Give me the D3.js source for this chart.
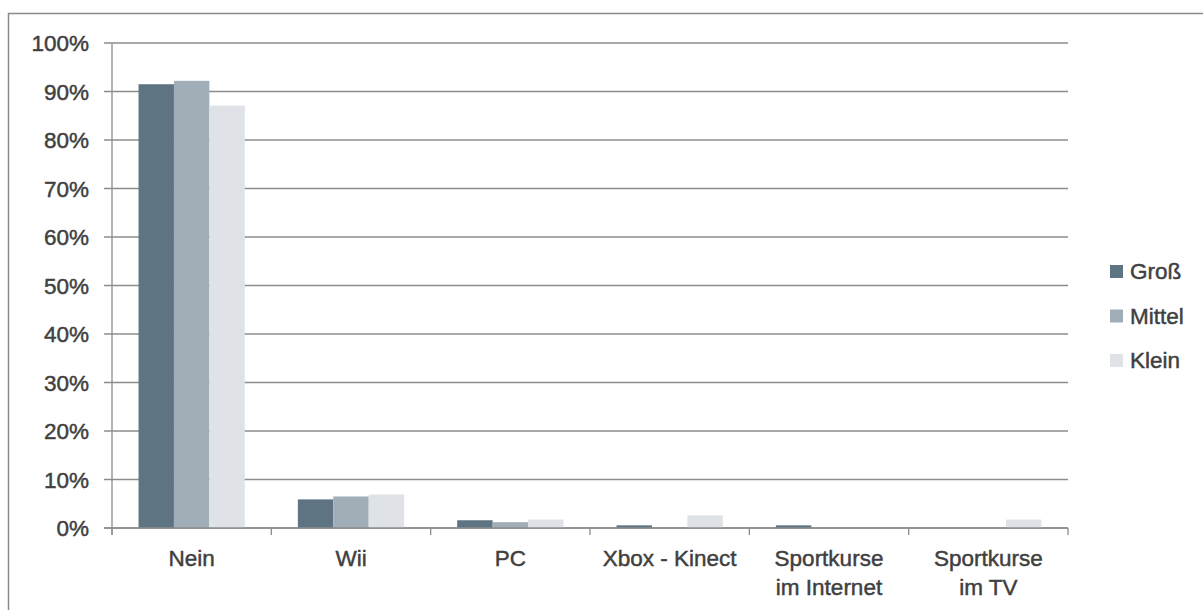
<!DOCTYPE html>
<html><head><meta charset="utf-8">
<script src="https://cdn.jsdelivr.net/npm/d3@7"></script>
<style>
html,body{margin:0;padding:0;background:#fff;}
text{font-family:"Liberation Sans",Arial,sans-serif;fill:#404040;stroke:#404040;stroke-width:0.45px;}
</style></head>
<body>
<svg id="chart" width="1203" height="610"></svg>
<script>
const categories = [["Nein"],["Wii"],["PC"],["Xbox - Kinect"],["Sportkurse","im Internet"],["Sportkurse","im TV"]];
const seriesNames = ["Groß","Mittel","Klein"];
const gross  = [91.5, 5.9, 1.6, 0.55, 0.55, 0];
const mittel = [92.2, 6.5, 1.2, 0, 0, 0];
const klein  = [87.1, 6.9, 1.75, 2.6, 0, 1.75];
const yTicks = [0,10,20,30,40,50,60,70,80,90,100];
const colors = ["#5f7483","#a1aeb8","#dfe3e7"];

(function(){
const series = [gross, mittel, klein];
const svg = d3.select("#chart");
const fs = 22.5;

svg.append("rect").attr("x",8.5).attr("y",13.5).attr("width",1210).attr("height",620)
  .attr("fill","none").attr("stroke","#8a8a8a").attr("stroke-width",1.5);

const pl=112, pr=1068, pt=43, pb=528;
const x0 = d3.scaleBand().domain(d3.range(categories.length)).range([pl,pr]).paddingInner(0.333).paddingOuter(0.1665);
const x1 = d3.scaleBand().domain(d3.range(seriesNames.length)).range([0,x0.bandwidth()]);
const y = d3.scaleLinear().domain([0,100]).range([pb,pt]);

svg.append("g").selectAll("line").data(yTicks).join("line")
  .attr("x1",104).attr("x2",pr).attr("y1",d=>y(d)).attr("y2",d=>y(d))
  .attr("stroke","#8c8c8c").attr("stroke-width",1.3);

const g = svg.append("g");
series.forEach((s,si)=>{
  g.selectAll(null).data(s).join("rect")
    .attr("x",(d,i)=>x0(i)+x1(si)).attr("width",x1.bandwidth())
    .attr("y",d=>y(d)).attr("height",d=>pb-y(d)).attr("fill",colors[si]);
});

svg.append("line").attr("x1",pl).attr("x2",pl).attr("y1",pt).attr("y2",pb+7)
  .attr("stroke","#8c8c8c").attr("stroke-width",1.3);
svg.append("line").attr("x1",104).attr("x2",pr).attr("y1",pb).attr("y2",pb)
  .attr("stroke","#8c8c8c").attr("stroke-width",1.5);
const step = (pr-pl)/categories.length;
svg.append("g").selectAll("line").data(d3.range(categories.length+1)).join("line")
  .attr("x1",i=>pl+i*step).attr("x2",i=>pl+i*step).attr("y1",pb).attr("y2",pb+7)
  .attr("stroke","#8c8c8c").attr("stroke-width",1.3);

svg.append("g").selectAll("text").data(yTicks).join("text")
  .attr("x",89).attr("y",d=>y(d)).attr("dy","0.36em").attr("text-anchor","end")
  .attr("font-size",fs).text(d=>d+"%");

const xl = svg.append("g").selectAll("text").data(categories).join("text")
  .attr("text-anchor","middle").attr("font-size",fs)
  .attr("transform",(d,i)=>`translate(${x0(i)+x0.bandwidth()/2},566)`);
xl.selectAll("tspan").data(d=>d).join("tspan").attr("x",0).attr("y",(d,j)=>j*29).text(d=>d);

const lg = svg.append("g").selectAll("g").data(seriesNames).join("g")
  .attr("transform",(d,i)=>`translate(1110,${271+i*44.5})`);
lg.append("rect").attr("x",0).attr("y",-6).attr("width",13).attr("height",13).attr("fill",(d,i)=>colors[i]).attr("stroke","none");
lg.append("text").attr("x",20).attr("y",0).attr("dy","0.36em").attr("font-size",fs).text(d=>d);
})();
</script>
</body></html>
